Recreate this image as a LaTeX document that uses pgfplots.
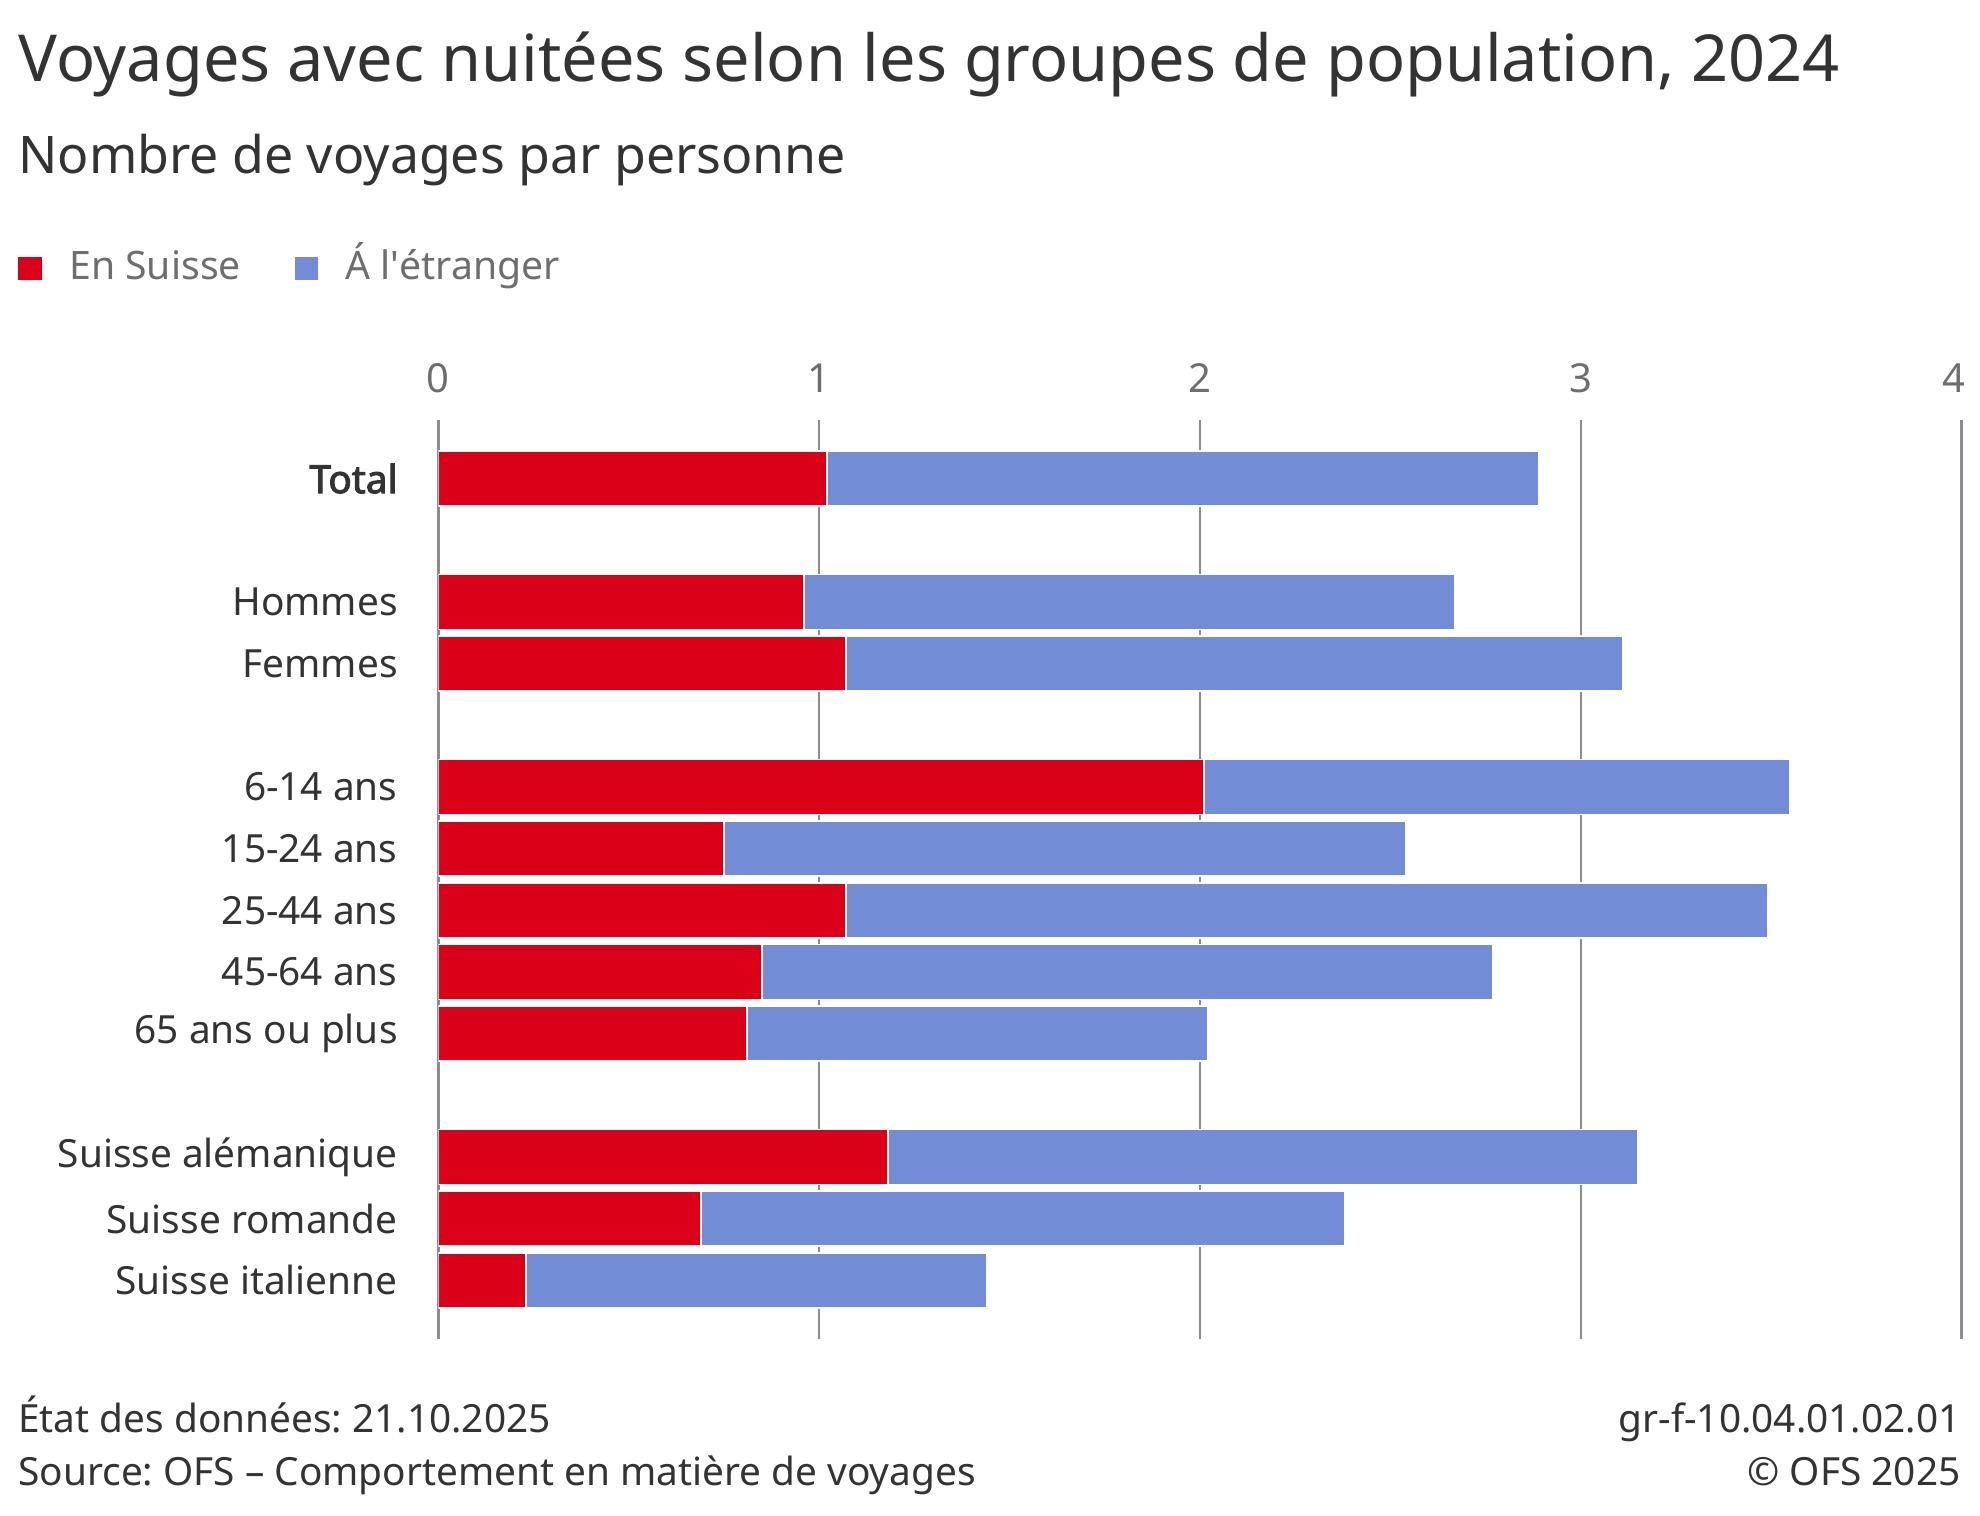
\documentclass[border=0pt]{standalone}
\usepackage{pgfplots}
\pgfplotsset{compat=1.18}
\usepackage{fontspec}
\setmainfont{Noto Sans}
\newfontfamily\fakebold{Noto Sans}[FakeBold=2.5]
\frenchspacing
\definecolor{ofsred}{RGB}{218,0,24}
\definecolor{ofsblue}{RGB}{114,140,214}
\definecolor{txtdark}{RGB}{51,51,51}
\definecolor{txtgray}{RGB}{110,110,110}
\definecolor{gridgray}{RGB}{140,140,140}
\begin{document}
\begin{tikzpicture}
\path[use as bounding box] (0,0) rectangle (495pt,379pt);
\node[anchor=base west, inner sep=0pt, text=txtdark, font=\fontsize{16.2}{18}\selectfont] at (4.4pt,358.5pt) {Voyages avec nuitées selon les groupes de population, 2024};
\node[anchor=base west, inner sep=0pt, text=txtdark, font=\fontsize{12.95}{15}\selectfont] at (4.4pt,335.7pt) {Nombre de voyages par personne};
\node[anchor=base west, inner sep=0pt, text=txtdark, font=\fontsize{9.7}{12}\selectfont] at (4.4pt,20.75pt) {État des données: 21.10.2025};
\node[anchor=base west, inner sep=0pt, text=txtdark, font=\fontsize{9.7}{12}\selectfont] at (4.4pt,7.5pt) {Source: OFS – Comportement en matière de voyages};
\node[anchor=base east, inner sep=0pt, text=txtdark, font=\fontsize{9.7}{12}\selectfont] at (490.3pt,20.75pt) {gr-f-10.04.01.02.01};
\node[anchor=base east, inner sep=0pt, text=txtdark, font=\fontsize{9.7}{12}\selectfont] at (490.3pt,7.5pt) {© OFS 2025};
\begin{axis}[
  at={(109.6pt,44.25pt)}, anchor=south west,
  scale only axis, width=380.8pt, height=229.75pt,
  xbar stacked, bar width=0.89,
  xmin=0, xmax=4, ymin=-0.95, ymax=13.95,
  y dir=reverse,
  axis line style={draw=none},
  major tick length=0pt,
  xtick={0,1,2,3,4},
  xticklabels={0,1,2,3,\llap{4\hspace{-0.1em}}},
  xticklabel pos=upper,
  xmajorgrids, grid style={gridgray, line width=0.6pt},
  xticklabel style={anchor=base, inner sep=0pt, yshift=6.75pt, text=txtgray, font=\fontsize{10}{12}\selectfont},
  ytick={0,2,3,5,6,7,8,9,11,12,13},
  yticklabels={{\fakebold Total},Hommes,Femmes,6-14 ans,15-24 ans,25-44 ans,45-64 ans,65 ans ou plus,Suisse alémanique,Suisse romande,Suisse italienne},
  yticklabel style={anchor=east, inner sep=0pt, xshift=-10pt, text=txtdark, font=\fontsize{9.7}{12}\selectfont},
  legend columns=2,
  legend style={at={(-0.2773,1.1650)}, anchor=west, draw=none, fill=none, inner sep=0pt,
    font=\fontsize{9.8}{12}\selectfont, text=txtgray,
    nodes={text height=7.6pt, text depth=2.2pt},
    /tikz/every odd column/.append style={column sep=4.4pt},
    /tikz/every even column/.append style={column sep=11pt}},
  legend cell align=left,
  legend image code/.code={\fill[#1] (0pt,-3.15pt) rectangle (6.3pt,3.15pt);},
]
\addplot[fill=ofsred, draw=white, line width=0.4pt] coordinates {
(1.02,0) (0.96,2) (1.07,3) (2.01,5) (0.75,6) (1.07,7) (0.85,8) (0.81,9) (1.18,11) (0.69,12) (0.23,13)
};
\addplot[fill=ofsblue, draw=white, line width=0.4pt] coordinates {
(1.87,0) (1.71,2) (2.04,3) (1.54,5) (1.79,6) (2.42,7) (1.92,8) (1.21,9) (1.97,11) (1.69,12) (1.21,13)
};
\legend{En Suisse, Á l\textquotesingle étranger}
\end{axis}
\end{tikzpicture}
\end{document}
